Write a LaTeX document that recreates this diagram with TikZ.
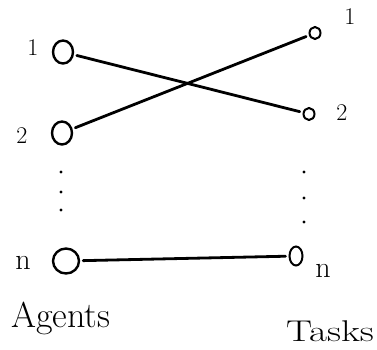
\documentclass[tikz,border=0pt]{standalone}
\usetikzlibrary{shapes.geometric}
\begin{document}
\begin{tikzpicture}[x=1pt,y=-1pt,
  agent/.style={draw,ellipse,line width=2.4pt,minimum width=20pt,minimum height=23pt,inner sep=0pt},
  task/.style={draw,ellipse,line width=2pt,minimum width=11pt,minimum height=12pt,inner sep=0pt},
  lbl/.style={font=\fontsize{24}{24}\selectfont,inner sep=0pt},
  nlbl/.style={font=\fontsize{30}{30}\selectfont,inner sep=0pt},
  edge/.style={line width=2.8pt,line cap=round,shorten <=3pt,shorten >=3pt},
  vdots/.style={circle,fill,inner sep=0pt,minimum size=3.2pt}]
\useasboundingbox (0,0) rectangle (377,349);

% agents
\node[agent] (a1) at (63,52) {};
\node[agent] (a2) at (62,133) {};
\node[agent,minimum width=26pt,minimum height=25pt] (an) at (66,261) {};
\node[lbl] (la1) at (33,48) {1};
\node[lbl] (la2) at (22,136) {2};
\node[nlbl] (lan) at (23,263) {n};

% tasks
\node[task] (t1) at (315,33) {};
\node[task] (t2) at (309,114) {};
\node[task,minimum width=13pt,minimum height=19pt] (tn) at (296,256) {};
\node[lbl] (lt1) at (350,17) {1};
\node[lbl] (lt2) at (342,113) {2};
\node[nlbl] (ltn) at (323,271) {n};

% column dots
\foreach \y [count=\i] in {172,192,210} \node[vdots] (ad\i) at (61,\y) {};
\foreach \y [count=\i] in {172,198,222} \node[vdots] (td\i) at (304,\y) {};

% headings
\node[font=\fontsize{36}{36}\selectfont,inner sep=0pt] (agents) at (61,318) {Agents};
\node[font=\fontsize{30}{30}\selectfont,inner sep=0pt,xscale=1.3] (tasks) at (330,331) {Tasks};

% assignments
\draw[edge] (a1) -- (t2);
\draw[edge] (a2) -- (t1);
\draw[edge] (an) -- (tn);
\end{tikzpicture}
\end{document}
